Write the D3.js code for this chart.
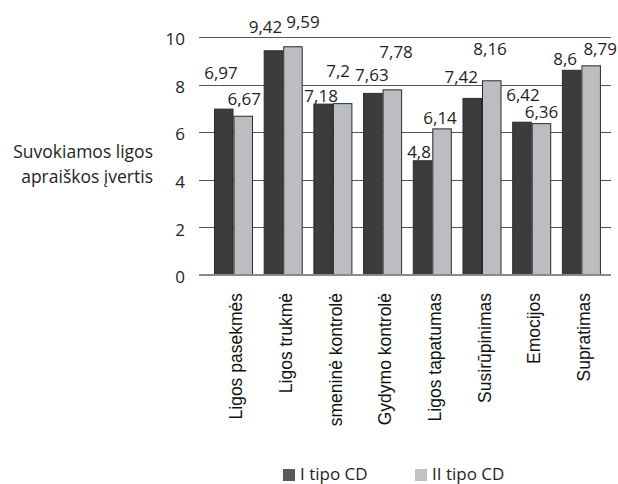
<!DOCTYPE html>
<html>
<head>
<meta charset="utf-8">
<script src="https://cdn.jsdelivr.net/npm/d3@7/dist/d3.min.js"></script>
<style>
  html, body { margin: 0; padding: 0; background: #fff; }
  svg { display: block; }
</style>
</head>
<body>
<div id="chart"></div>
<script>
// ---- data ----
const categories = ["Ligos pasekmės", "Ligos trukmė", "Asmeninė kontrolė", "Gydymo kontrolė",
                    "Ligos tapatumas", "Susirūpinimas", "Emocijos", "Supratimas"];
const seriesNames = ["I tipo CD", "II tipo CD"];
const type1 = [6.97, 9.42, 7.18, 7.63, 4.8, 7.42, 6.42, 8.6];
const type2 = [6.67, 9.59, 7.2, 7.78, 6.14, 8.16, 6.36, 8.79];
const yTicks = [0, 2, 4, 6, 8, 10];
const yTitle = ["Suvokiamos ligos", "apraiškos įvertis"];

// ---- layout (label nudges in px, relative to bar top centre) ----
const labelNudge = [
  [[-2.7, -36], [1, -17]],
  [[-8, -24], [10, -25]],
  [[-2, -8], [-4.5, -33]],
  [[-1, -19], [3.7, -38]],
  [[-3.5, -9], [-2, -11]],
  [[-11, -22], [-1.7, -32]],
  [[1, -27.5], [0, -11.5]],
  [[-6.5, -11], [9, -17]]
];

const W = 618, H = 484;
const colors = ["#3c3c3c", "#bcbdc0"];
const legendColors = ["#5a5a5a", "#c2c2c2"];
const font = "'Open Sans', 'Noto Sans', sans-serif";

const svg = d3.select("#chart").append("svg").attr("width", W).attr("height", H);

const x = d3.scaleBand().domain(categories).range([203.3, 611.6]).paddingInner(0.215).paddingOuter(0.215);
const xs = d3.scaleBand().domain([0, 1]).range([0, x.bandwidth()]);
const y = d3.scaleLinear().domain([0, 10]).range([275, 37]);

// gridlines
svg.append("g").selectAll("line").data(yTicks.filter(t => t !== 0)).join("line")
  .attr("x1", 199).attr("x2", 611)
  .attr("y1", d => Math.round(y(d)) + 0.5).attr("y2", d => Math.round(y(d)) + 0.5)
  .attr("stroke", "#555").attr("stroke-width", 1);

// y tick labels
svg.append("g").selectAll("text").data(yTicks).join("text")
  .attr("x", 185).attr("y", d => y(d) + 2)
  .attr("dy", "0.36em")
  .attr("text-anchor", "end")
  .attr("font-family", font).attr("font-size", 17).attr("fill", "#231f20")
  .text(d => d);

// bars
const series = [type1, type2];
const groups = svg.append("g").selectAll("g").data(categories).join("g")
  .attr("transform", d => `translate(${x(d)},0)`);

groups.selectAll("rect").data((d, i) => series.map((s, k) => ({ k, v: s[i], i }))).join("rect")
  .attr("x", d => xs(d.k) + 0.5)
  .attr("width", xs.bandwidth() - 1)
  .attr("y", d => y(d.v))
  .attr("height", d => y(0) - y(d.v))
  .attr("fill", d => colors[d.k])
  .attr("stroke", "#2a2a2a").attr("stroke-width", 1);

// baseline
svg.append("line")
  .attr("x1", 199).attr("x2", 611).attr("y1", y(0)).attr("y2", y(0))
  .attr("stroke", "#8a8a8a").attr("stroke-width", 2);

// value labels
const fmt = v => String(v).replace(".", ",");
svg.append("g").selectAll("text")
  .data(categories.flatMap((c, i) => series.map((s, k) => ({ c, i, k, v: s[i] }))))
  .join("text")
  .attr("x", d => x(d.c) + xs(d.k) + xs.bandwidth() / 2 + labelNudge[d.i][d.k][0])
  .attr("y", d => y(d.v) + labelNudge[d.i][d.k][1])
  .attr("dy", "0.36em")
  .attr("text-anchor", "middle")
  .attr("font-family", font).attr("font-size", 17).attr("fill", "#231f20")
  .text(d => fmt(d.v));

// category labels (rotated, clipped at bottom)
svg.append("clipPath").attr("id", "catclip")
  .append("rect").attr("x", 190).attr("y", 280).attr("width", 428).attr("height", 146);
svg.append("g").attr("clip-path", "url(#catclip)")
  .selectAll("text").data(categories).join("text")
  .attr("transform", d => `translate(${x(d) + x.bandwidth() / 2},293) rotate(-90)`)
  .attr("dy", "0.5em")
  .attr("text-anchor", "end")
  .attr("font-family", "'Liberation Sans', Arial, sans-serif")
  .attr("font-size", 17.5).attr("fill", "#111")
  .text(d => d);

// y title
svg.append("g").selectAll("text").data(yTitle).join("text")
  .attr("x", 153).attr("y", (d, i) => 158 + i * 25)
  .attr("text-anchor", "end")
  .attr("font-family", font).attr("font-size", 17.5).attr("fill", "#231f20")
  .text(d => d);

// legend
const legX = [283, 415];
const leg = svg.append("g").selectAll("g").data(seriesNames).join("g")
  .attr("transform", (d, i) => `translate(${legX[i]},469)`);
leg.append("rect").attr("width", 12).attr("height", 12).attr("fill", (d, i) => legendColors[i]);
leg.append("text").attr("x", 17).attr("y", 11)
  .attr("font-family", font).attr("font-size", 17).attr("fill", "#231f20")
  .text(d => d);
</script>
</body>
</html>
